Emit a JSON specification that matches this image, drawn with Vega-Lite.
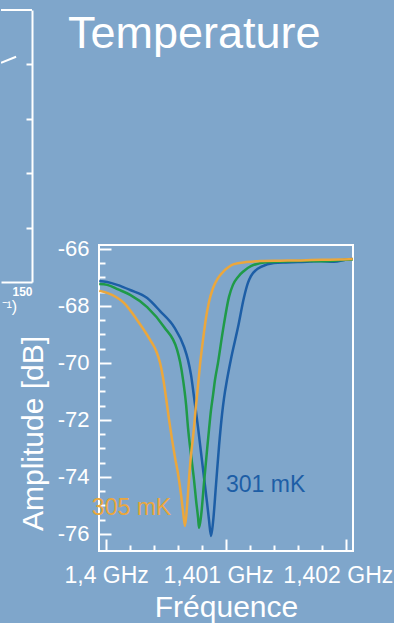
{
  "$schema": "https://vega.github.io/schema/vega-lite/v6.json",
  "background": "#7fa6cb",
  "padding": {"left": 0, "top": 9, "right": 0, "bottom": 0},
  "config": {"font": "Liberation Sans", "view": {"stroke": null}},
  "datasets": {
    "curves": [
      {"series": "301 mK", "f": 1399.942, "amp": -67.12},
      {"series": "301 mK", "f": 1400.008, "amp": -67.16},
      {"series": "301 mK", "f": 1400.092, "amp": -67.26},
      {"series": "301 mK", "f": 1400.2, "amp": -67.44},
      {"series": "301 mK", "f": 1400.342, "amp": -67.72},
      {"series": "301 mK", "f": 1400.45, "amp": -68.18},
      {"series": "301 mK", "f": 1400.567, "amp": -68.74},
      {"series": "301 mK", "f": 1400.65, "amp": -69.44},
      {"series": "301 mK", "f": 1400.683, "amp": -69.9},
      {"series": "301 mK", "f": 1400.708, "amp": -70.42},
      {"series": "301 mK", "f": 1400.733, "amp": -71.19},
      {"series": "301 mK", "f": 1400.767, "amp": -72.28},
      {"series": "301 mK", "f": 1400.792, "amp": -73.16},
      {"series": "301 mK", "f": 1400.817, "amp": -74.04},
      {"series": "301 mK", "f": 1400.842, "amp": -74.91},
      {"series": "301 mK", "f": 1400.858, "amp": -75.51},
      {"series": "301 mK", "f": 1400.875, "amp": -76.07},
      {"series": "301 mK", "f": 1400.892, "amp": -75.58},
      {"series": "301 mK", "f": 1400.917, "amp": -74.25},
      {"series": "301 mK", "f": 1400.942, "amp": -72.91},
      {"series": "301 mK", "f": 1400.967, "amp": -71.8},
      {"series": "301 mK", "f": 1400.983, "amp": -71.25},
      {"series": "301 mK", "f": 1401.008, "amp": -70.6},
      {"series": "301 mK", "f": 1401.042, "amp": -69.85},
      {"series": "301 mK", "f": 1401.1, "amp": -68.75},
      {"series": "301 mK", "f": 1401.15, "amp": -67.7},
      {"series": "301 mK", "f": 1401.183, "amp": -67.19},
      {"series": "301 mK", "f": 1401.208, "amp": -66.95},
      {"series": "301 mK", "f": 1401.25, "amp": -66.74},
      {"series": "301 mK", "f": 1401.292, "amp": -66.63},
      {"series": "301 mK", "f": 1401.4, "amp": -66.49},
      {"series": "301 mK", "f": 1401.5, "amp": -66.47},
      {"series": "301 mK", "f": 1401.6, "amp": -66.46},
      {"series": "301 mK", "f": 1401.7, "amp": -66.44},
      {"series": "301 mK", "f": 1401.792, "amp": -66.42},
      {"series": "301 mK", "f": 1401.9, "amp": -66.45},
      {"series": "301 mK", "f": 1402.017, "amp": -66.36},
      {"series": "301 mK", "f": 1402.058, "amp": -66.35},
      {"series": "303 mK", "f": 1399.942, "amp": -67.23},
      {"series": "303 mK", "f": 1400.008, "amp": -67.26},
      {"series": "303 mK", "f": 1400.1, "amp": -67.42},
      {"series": "303 mK", "f": 1400.2, "amp": -67.61},
      {"series": "303 mK", "f": 1400.342, "amp": -68.04},
      {"series": "303 mK", "f": 1400.483, "amp": -68.74},
      {"series": "303 mK", "f": 1400.592, "amp": -69.54},
      {"series": "303 mK", "f": 1400.617, "amp": -69.97},
      {"series": "303 mK", "f": 1400.642, "amp": -70.6},
      {"series": "303 mK", "f": 1400.667, "amp": -71.47},
      {"series": "303 mK", "f": 1400.683, "amp": -72.28},
      {"series": "303 mK", "f": 1400.708, "amp": -73.23},
      {"series": "303 mK", "f": 1400.733, "amp": -74.1},
      {"series": "303 mK", "f": 1400.75, "amp": -74.81},
      {"series": "303 mK", "f": 1400.767, "amp": -75.44},
      {"series": "303 mK", "f": 1400.775, "amp": -75.79},
      {"series": "303 mK", "f": 1400.792, "amp": -75.37},
      {"series": "303 mK", "f": 1400.817, "amp": -74.18},
      {"series": "303 mK", "f": 1400.842, "amp": -73.05},
      {"series": "303 mK", "f": 1400.858, "amp": -72.35},
      {"series": "303 mK", "f": 1400.875, "amp": -71.65},
      {"series": "303 mK", "f": 1400.892, "amp": -71.12},
      {"series": "303 mK", "f": 1400.908, "amp": -70.6},
      {"series": "303 mK", "f": 1400.933, "amp": -70.0},
      {"series": "303 mK", "f": 1400.975, "amp": -68.84},
      {"series": "303 mK", "f": 1401.025, "amp": -67.68},
      {"series": "303 mK", "f": 1401.058, "amp": -67.26},
      {"series": "303 mK", "f": 1401.1, "amp": -66.98},
      {"series": "303 mK", "f": 1401.15, "amp": -66.77},
      {"series": "303 mK", "f": 1401.208, "amp": -66.6},
      {"series": "303 mK", "f": 1401.35, "amp": -66.46},
      {"series": "303 mK", "f": 1401.5, "amp": -66.44},
      {"series": "303 mK", "f": 1401.625, "amp": -66.42},
      {"series": "303 mK", "f": 1401.75, "amp": -66.43},
      {"series": "303 mK", "f": 1401.875, "amp": -66.42},
      {"series": "303 mK", "f": 1402.0, "amp": -66.38},
      {"series": "303 mK", "f": 1402.058, "amp": -66.37},
      {"series": "305 mK", "f": 1399.942, "amp": -67.47},
      {"series": "305 mK", "f": 1400.008, "amp": -67.54},
      {"series": "305 mK", "f": 1400.15, "amp": -67.9},
      {"series": "305 mK", "f": 1400.258, "amp": -68.49},
      {"series": "305 mK", "f": 1400.367, "amp": -69.19},
      {"series": "305 mK", "f": 1400.417, "amp": -69.58},
      {"series": "305 mK", "f": 1400.45, "amp": -70.0},
      {"series": "305 mK", "f": 1400.475, "amp": -70.53},
      {"series": "305 mK", "f": 1400.5, "amp": -71.23},
      {"series": "305 mK", "f": 1400.525, "amp": -72.0},
      {"series": "305 mK", "f": 1400.55, "amp": -72.7},
      {"series": "305 mK", "f": 1400.575, "amp": -73.33},
      {"series": "305 mK", "f": 1400.6, "amp": -73.9},
      {"series": "305 mK", "f": 1400.625, "amp": -74.63},
      {"series": "305 mK", "f": 1400.642, "amp": -75.23},
      {"series": "305 mK", "f": 1400.658, "amp": -75.72},
      {"series": "305 mK", "f": 1400.675, "amp": -75.02},
      {"series": "305 mK", "f": 1400.692, "amp": -74.04},
      {"series": "305 mK", "f": 1400.708, "amp": -73.23},
      {"series": "305 mK", "f": 1400.725, "amp": -72.6},
      {"series": "305 mK", "f": 1400.75, "amp": -71.47},
      {"series": "305 mK", "f": 1400.767, "amp": -70.77},
      {"series": "305 mK", "f": 1400.783, "amp": -70.07},
      {"series": "305 mK", "f": 1400.808, "amp": -69.19},
      {"series": "305 mK", "f": 1400.833, "amp": -68.42},
      {"series": "305 mK", "f": 1400.858, "amp": -67.86},
      {"series": "305 mK", "f": 1400.892, "amp": -67.37},
      {"series": "305 mK", "f": 1400.933, "amp": -67.02},
      {"series": "305 mK", "f": 1400.983, "amp": -66.77},
      {"series": "305 mK", "f": 1401.067, "amp": -66.53},
      {"series": "305 mK", "f": 1401.167, "amp": -66.46},
      {"series": "305 mK", "f": 1401.292, "amp": -66.42},
      {"series": "305 mK", "f": 1401.45, "amp": -66.41},
      {"series": "305 mK", "f": 1401.625, "amp": -66.4},
      {"series": "305 mK", "f": 1401.8, "amp": -66.38},
      {"series": "305 mK", "f": 1401.95, "amp": -66.37},
      {"series": "305 mK", "f": 1402.058, "amp": -66.35}
    ],
    "labels": [
      {"series": "301 mK", "label": "301 mK", "f": 1401.0, "amp": -74.28},
      {"series": "305 mK", "label": "305 mK", "f": 1400.542, "amp": -75.09}
    ],
    "leftline": [
      {"x": 135, "y": 4.03},
      {"x": 142.3, "y": 4.14}
    ]
  },
  "hconcat": [
    {
      "width": 31,
      "height": 272,
      "view": {"stroke": null},
      "layer": [
        {
          "data": {"name": "leftline"},
          "mark": {"type": "line", "color": "white", "strokeWidth": 2, "clip": true},
          "encoding": {
            "x": {
              "field": "x", "type": "quantitative",
              "scale": {"domain": [135, 150], "nice": false, "zero": false},
              "axis": {
                "orient": "bottom", "values": [150], "grid": false,
                "domain": true, "domainColor": "white", "domainWidth": 2,
                "ticks": false,
                "labelColor": "white", "labelFontSize": 12, "labelFontWeight": "bold",
                "labelAlign": "right", "labelPadding": 4, "labelFlush": false,
                "title": "⁻¹)", "titleColor": "white", "titleFontSize": 16,
                "titleFontWeight": "normal", "titleAlign": "left", "titleX": 0,
                "titleY": 29, "titleBaseline": "alphabetic"
              }
            },
            "y": {
              "field": "y", "type": "quantitative",
              "scale": {"domain": [0, 5], "nice": false},
              "axis": {
                "orient": "right", "values": [1, 2, 3, 4], "labels": false,
                "grid": false, "tickSize": -6, "tickColor": "white", "tickWidth": 2,
                "domain": true, "domainColor": "white", "domainWidth": 2, "title": null
              }
            }
          }
        },
        {
          "data": {"values": [{}]},
          "mark": {"type": "rule", "color": "white", "strokeWidth": 2},
          "encoding": {"y": {"datum": 5, "type": "quantitative"}}
        }
      ]
    },
    {
      "vconcat": [
        {
          "width": 254,
          "height": 38,
          "view": {"stroke": null},
          "data": {"values": [{}]},
          "mark": {"type": "point", "opacity": 0},
          "title": {
            "text": "Temperature", "orient": "bottom", "anchor": "start",
            "frame": "group", "dx": -31, "offset": 0, "baseline": "alphabetic",
            "fontSize": 45, "fontWeight": "normal", "color": "white"
          }
        },
        {
          "width": 254,
          "height": 306,
          "view": {"stroke": "white", "strokeWidth": 2},
          "resolve": {"axis": {"x": "independent", "y": "independent"}},
          "layer": [
            {
              "data": {"name": "curves"},
              "mark": {"type": "point", "opacity": 0},
              "encoding": {
                "x": {
                  "field": "f", "type": "quantitative",
                  "scale": {"domain": [1399.94, 1402.06], "nice": false, "zero": false},
                  "axis": {
                    "orient": "bottom",
                    "values": [1400.2, 1400.4, 1400.6, 1400.8, 1401.2, 1401.4, 1401.6, 1401.8],
                    "labels": false, "domain": false, "grid": false, "title": null,
                    "tickColor": "white", "tickWidth": 2, "tickSize": -6
                  }
                },
                "y": {
                  "field": "amp", "type": "quantitative",
                  "scale": {"domain": [-76.6, -65.86], "nice": false, "zero": false},
                  "axis": {
                    "orient": "left",
                    "values": [-75.5, -75, -74.5, -73.5, -73, -72.5, -71.5, -71, -70.5, -69.5, -69, -68.5, -67.5, -67, -66.5],
                    "labels": false, "domain": false, "grid": false, "title": null,
                    "tickColor": "white", "tickWidth": 2, "tickSize": -6
                  }
                }
              }
            },
            {
              "data": {"name": "curves"},
              "mark": {"type": "line", "strokeWidth": 2.5, "clip": true, "interpolate": "monotone"},
              "encoding": {
                "x": {
                  "field": "f", "type": "quantitative",
                  "scale": {"domain": [1399.94, 1402.06], "nice": false, "zero": false},
                  "axis": {
                    "orient": "bottom",
                    "values": [1400, 1401, 1402],
                    "labelExpr": "replace(format(datum.value / 1000, '.3~f'), '.', ',') + ' GHz'",
                    "domain": false, "grid": false,
                    "tickColor": "white", "tickWidth": 2, "tickSize": -12,
                    "labelColor": "white", "labelFontSize": 23, "labelPadding": 25,
                    "labelOffset": {"condition": {"test": "datum.value > 1400.5", "value": -8}, "value": 0},
                    "labelOverlap": false, "labelFlush": false,
                    "title": "Fréquence", "titleColor": "white", "titleFontSize": 30,
                    "titleFontWeight": "normal", "titleBaseline": "alphabetic", "titleY": 65
                  }
                },
                "y": {
                  "field": "amp", "type": "quantitative",
                  "scale": {"domain": [-76.6, -65.86], "nice": false, "zero": false},
                  "axis": {
                    "orient": "left",
                    "values": [-76, -74, -72, -70, -68, -66],
                    "labelExpr": "'-' + abs(datum.value)",
                    "domain": false, "grid": false,
                    "tickColor": "white", "tickWidth": 2, "tickSize": -12,
                    "labelColor": "white", "labelFontSize": 22, "labelPadding": 22,
                    "labelOverlap": false, "labelFlush": false,
                    "title": "Amplitude [dB]", "titleColor": "white", "titleFontSize": 30,
                    "titleFontWeight": "normal", "titleBaseline": "alphabetic",
                    "titleAlign": "center", "titleX": -57, "titleY": 188
                  }
                },
                "color": {
                  "field": "series", "type": "nominal",
                  "scale": {"domain": ["301 mK", "303 mK", "305 mK"], "range": ["#1d5ea6", "#1f9a48", "#eba73c"]},
                  "legend": null
                }
              }
            },
            {
              "data": {"name": "labels"},
              "transform": [{"filter": "datum.label == '301 mK'"}],
              "mark": {"type": "text", "align": "left", "baseline": "middle", "fontSize": 23},
              "encoding": {
                "x": {"field": "f", "type": "quantitative", "axis": null},
                "y": {"field": "amp", "type": "quantitative", "axis": null},
                "color": {"field": "series", "type": "nominal", "legend": null},
                "text": {"field": "label"}
              }
            },
            {
              "data": {"name": "labels"},
              "transform": [{"filter": "datum.label == '305 mK'"}],
              "mark": {"type": "text", "align": "right", "baseline": "middle", "fontSize": 23},
              "encoding": {
                "x": {"field": "f", "type": "quantitative", "axis": null},
                "y": {"field": "amp", "type": "quantitative", "axis": null},
                "color": {"field": "series", "type": "nominal", "legend": null},
                "text": {"field": "label"}
              }
            }
          ]
        }
      ],
      "spacing": 197,
      "bounds": "flush"
    }
  ],
  "spacing": 67,
  "bounds": "flush"
}
